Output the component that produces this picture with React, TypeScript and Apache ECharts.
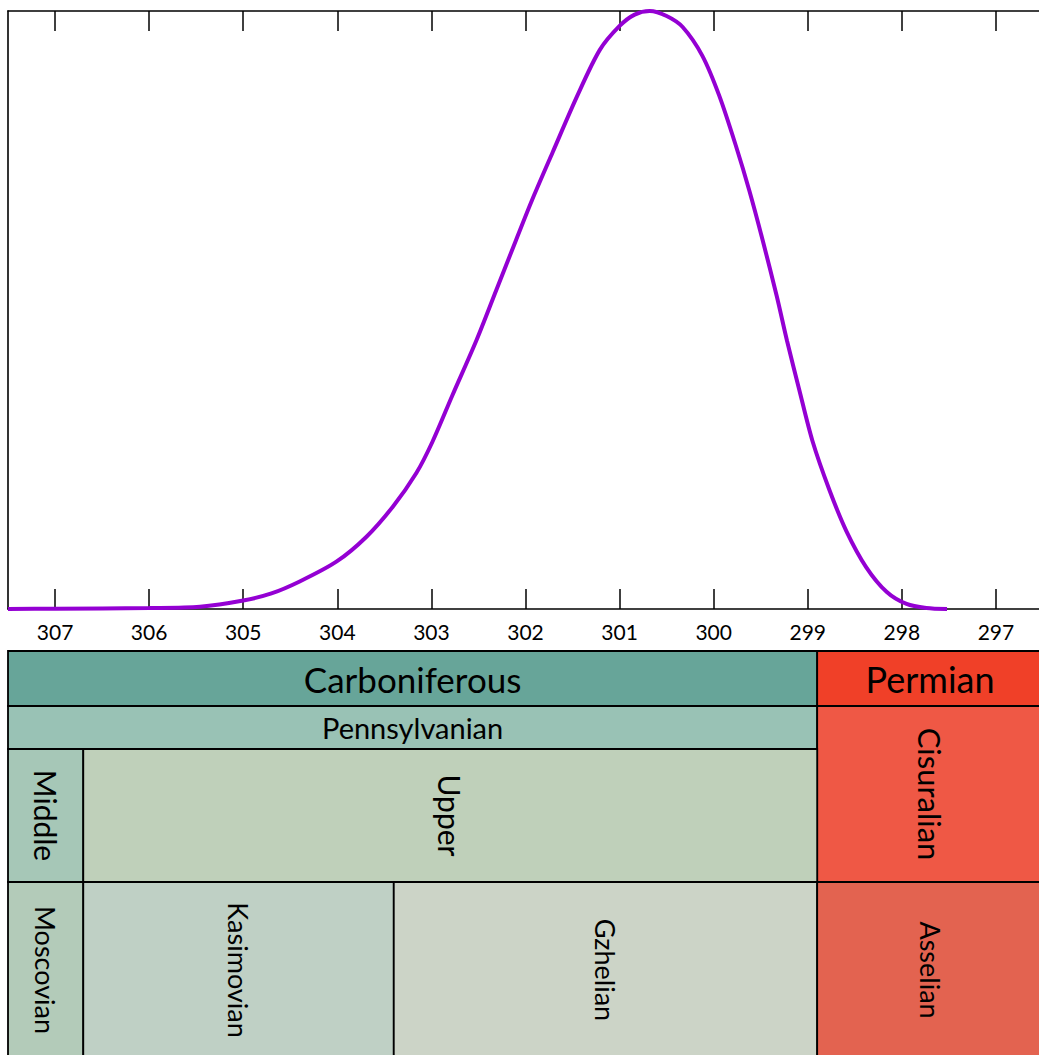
import React, { useEffect, useRef } from "react";
import * as echarts from "echarts";

// Age (Ma) and relative probability density of the curve
const AGES = [307.5, 307.0, 306.0, 305.46, 305.0, 304.7, 304.4, 304.01, 303.69, 303.41, 303.16, 302.99, 302.78, 302.52, 302.31, 302.1, 301.93, 301.71, 301.45, 301.21, 301.0, 300.84, 300.68, 300.5, 300.33, 300.12, 299.94, 299.76, 299.62, 299.48, 299.33, 299.22, 299.09, 298.95, 298.77, 298.59, 298.38, 298.16, 297.95, 297.74, 297.52];
const DENSITY = [0.0, 0.0005, 0.0017, 0.0038, 0.0142, 0.026, 0.046, 0.0791, 0.1209, 0.1711, 0.2274, 0.2793, 0.3562, 0.4498, 0.5334, 0.6171, 0.6839, 0.7642, 0.858, 0.935, 0.975, 0.994, 1.0, 0.9916, 0.9732, 0.925, 0.858, 0.7726, 0.699, 0.6171, 0.5234, 0.4482, 0.3662, 0.2809, 0.199, 0.1304, 0.0702, 0.0284, 0.0084, 0.0017, 0.0];

const TICK_VALUES = [297, 298, 299, 300, 301, 302, 303, 304, 305, 306, 307];
const AXIS_MIN = 296.5;
const AXIS_MAX = 307.5;

// Chronostratigraphic units
const UNIT_NAMES = ["Carboniferous", "Permian", "Pennsylvanian", "Cisuralian", "Middle", "Upper", "Moscovian", "Kasimovian", "Gzhelian", "Asselian"];
const UNIT_START = [358.9, 298.9, 323.2, 298.9, 315.2, 306.7, 315.2, 306.7, 303.4, 298.9];
const UNIT_END = [298.9, 251.9, 298.9, 273.01, 306.7, 298.9, 306.7, 303.4, 298.9, 293.52];
const UNIT_ROW = [0, 0, 1, 1, 2, 2, 3, 3, 3, 3];
const UNIT_SPAN = [1, 1, 1, 2, 1, 1, 1, 1, 1, 1];
const UNIT_COLORS = ["#67A599", "#F04028", "#99C2B5", "#EF5845", "#A6C7B7", "#BFD0BA", "#B3CBB9", "#BFD0C5", "#CCD4C7", "#E36350"];
const UNIT_FONT = [35, 36, 29, 31, 30, 30, 27, 27, 27, 27];

// layout (pixels)
const ROW_EDGES = [0, 55, 98, 231, 407];
const FONT = "Lato, 'Open Sans', sans-serif";

export default function App() {
  const ref = useRef<HTMLDivElement>(null);
  useEffect(() => {
    const chart = echarts.init(ref.current!, undefined, { renderer: "svg" });
    const gridLeft = 8;
    const gridWidth = 1035;
    const axisCommon = {
      type: "value", min: AXIS_MIN, max: AXIS_MAX, inverse: true,
    };
    const option: any = {
      animation: false,
      grid: [
        { left: gridLeft, top: 11, width: gridWidth, height: 598 },
        { left: gridLeft, top: 651, width: gridWidth, height: 420 },
      ],
      xAxis: [
        {
          ...axisCommon, gridIndex: 0, position: "bottom",
          axisLine: { show: true, onZero: false, lineStyle: { color: "#000", width: 1.6 } },
          axisTick: { show: true, inside: true, length: 20, customValues: TICK_VALUES, lineStyle: { color: "#000", width: 1.5 } },
          axisLabel: { show: true, customValues: TICK_VALUES, margin: 12, fontSize: 21, color: "#000", fontFamily: FONT },
          splitLine: { show: false },
        },
        {
          ...axisCommon, gridIndex: 0, position: "top",
          axisLine: { show: true, onZero: false, lineStyle: { color: "#000", width: 1.6 } },
          axisTick: { show: true, inside: true, length: 20, customValues: TICK_VALUES, lineStyle: { color: "#000", width: 1.5 } },
          axisLabel: { show: false },
          splitLine: { show: false },
        },
        { ...axisCommon, gridIndex: 1, show: false },
      ],
      yAxis: [
        {
          gridIndex: 0, type: "value", min: 0, max: 1,
          axisLine: { show: true, lineStyle: { color: "#000", width: 1.6 } },
          axisTick: { show: false }, axisLabel: { show: false }, splitLine: { show: false },
        },
        { gridIndex: 1, type: "value", min: 0, max: 1, show: false },
      ],
      series: [
        {
          type: "line",
          xAxisIndex: 0, yAxisIndex: 0,
          data: AGES.map((a, i) => [a, DENSITY[i]]),
          smooth: 0.3,
          showSymbol: false,
          symbol: "none",
          lineStyle: { color: "#9400D3", width: 4 },
          z: 5,
        },
        {
          type: "custom",
          xAxisIndex: 2, yAxisIndex: 1,
          data: UNIT_NAMES.map((_, i) => [UNIT_START[i], UNIT_END[i], i]),
          encode: { x: [0, 1] },
          clip: false,
          renderItem: (params: any, api: any) => {
            const i = api.value(2);
            const cs = params.coordSys;
            const xa = api.coord([UNIT_START[i], 0])[0];
            const xb = api.coord([UNIT_END[i], 0])[0];
            const x1 = Math.max(Math.min(xa, xb), cs.x);
            const x2 = Math.min(Math.max(xa, xb), cs.x + cs.width);
            const row = UNIT_ROW[i];
            const lastRow = row + UNIT_SPAN[i];
            const y1 = cs.y + ROW_EDGES[row];
            const y2 = cs.y + ROW_EDGES[lastRow];
            const vertical = lastRow - 1 >= 2;
            return {
              type: "group",
              children: [
                {
                  type: "rect",
                  shape: { x: x1, y: y1, width: x2 - x1, height: y2 - y1 },
                  style: { fill: UNIT_COLORS[i], stroke: "#000", lineWidth: 1.8 },
                },
                {
                  type: "text",
                  x: (x1 + x2) / 2,
                  y: (y1 + y2) / 2,
                  rotation: vertical ? -Math.PI / 2 : 0,
                  style: {
                    text: UNIT_NAMES[i],
                    fontSize: UNIT_FONT[i],
                    fontFamily: FONT,
                    fill: "#000",
                    align: "center",
                    verticalAlign: "middle",
                  },
                },
              ],
            };
          },
        },
      ],
    };
    chart.setOption(option);
    return () => chart.dispose();
  }, []);
  return (
    <div style={{ position: "absolute", left: 0, top: 0, width: 1039, height: 1055, overflow: "hidden", background: "#fff" }}>
      <div ref={ref} style={{ width: 1070, height: 1080 }} />
    </div>
  );
}
